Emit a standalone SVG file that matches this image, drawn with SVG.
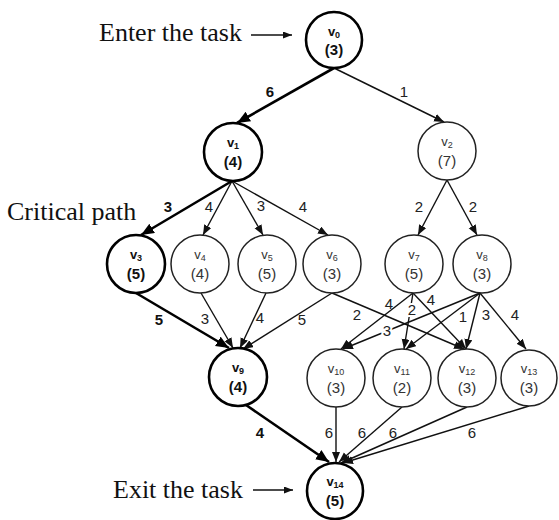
<svg xmlns="http://www.w3.org/2000/svg" width="559" height="520" viewBox="0 0 559 520">
<defs>
<marker id="ah" markerUnits="userSpaceOnUse" markerWidth="12" markerHeight="10" refX="10" refY="4" orient="auto"><path d="M0,0 L10,4 L0,8 Z" fill="#111"/></marker>
<marker id="ahb" markerUnits="userSpaceOnUse" markerWidth="16" markerHeight="12" refX="13" refY="5.5" orient="auto"><path d="M0,0 L13,5.5 L0,11 Z" fill="#000"/></marker>
<marker id="ahs" markerUnits="userSpaceOnUse" markerWidth="12" markerHeight="10" refX="9" refY="3.5" orient="auto"><path d="M0,0 L9,3.5 L0,7 Z" fill="#111"/></marker>
</defs>
<style>
.n circle{fill:#fff;stroke:#222;stroke-width:1.5}
.n text{font-family:"Liberation Sans",Arial,sans-serif;fill:#333;text-anchor:middle}
.c circle{stroke:#000;stroke-width:2.6}
.c text{fill:#111;font-weight:bold}
.v{font-size:13px}
.s{font-size:9px}
.w{font-size:15px}
.e{stroke:#111;stroke-width:1.4;fill:none;marker-end:url(#ah)}
.eb{stroke:#000;stroke-width:2.6;fill:none;marker-end:url(#ahb)}
.l{font-family:"Liberation Sans",Arial,sans-serif;font-size:15px;fill:#222;text-anchor:middle}
.lb{font-weight:bold;fill:#111}
.h{stroke:#fff;stroke-width:4;paint-order:stroke}
.t{font-family:"Liberation Serif","Times New Roman",serif;font-size:26px;fill:#111}
</style>
<g id="connectors">
<line class="eb" x1="334" y1="68" x2="237" y2="123"/>
<line class="e" x1="334" y1="68" x2="444" y2="122"/>
<line class="eb" x1="232" y1="181" x2="141" y2="235"/>
<line class="e" x1="232" y1="181" x2="203" y2="235"/>
<line class="e" x1="232" y1="181" x2="263" y2="235"/>
<line class="e" x1="232" y1="181" x2="328" y2="235"/>
<line class="e" x1="447" y1="180" x2="418" y2="235"/>
<line class="e" x1="447" y1="180" x2="477" y2="235"/>
<line class="eb" x1="136" y1="293" x2="229" y2="348"/>
<line class="e" x1="201" y1="293" x2="233" y2="348"/>
<line class="e" x1="266" y1="293" x2="240" y2="348"/>
<line class="e" x1="332" y1="293" x2="243" y2="349"/>
<line class="e" x1="332" y1="293" x2="464" y2="349"/>
<line class="e" x1="413" y1="293" x2="341" y2="349"/>
<line class="e" x1="413" y1="293" x2="404" y2="349"/>
<line class="e" x1="413" y1="293" x2="466" y2="349"/>
<line class="e" x1="480" y1="293" x2="343" y2="349"/>
<line class="e" x1="480" y1="293" x2="406" y2="349"/>
<line class="e" x1="480" y1="293" x2="466" y2="349"/>
<line class="e" x1="480" y1="293" x2="526" y2="349"/>
<line class="eb" x1="246" y1="405" x2="329" y2="462"/>
<line class="e" x1="336" y1="407" x2="336" y2="462"/>
<line class="e" x1="402" y1="407" x2="339" y2="462"/>
<line class="e" x1="467" y1="407" x2="341" y2="463"/>
<line class="e" x1="529" y1="406" x2="343" y2="463"/>
<line x1="251" y1="35" x2="292" y2="35" stroke="#111" stroke-width="1.3" marker-end="url(#ahs)"/>
<line x1="253" y1="490" x2="293" y2="490" stroke="#111" stroke-width="1.3" marker-end="url(#ahs)"/>
</g>
<g id="edge-labels">
<text class="l lb" x="270" y="97">6</text>
<text class="l" x="404" y="97">1</text>
<text class="l lb" x="168" y="212">3</text>
<text class="l" x="209" y="212">4</text>
<text class="l" x="261" y="211">3</text>
<text class="l" x="303" y="212">4</text>
<text class="l" x="419" y="212">2</text>
<text class="l" x="473" y="212">2</text>
<text class="l lb" x="159" y="325">5</text>
<text class="l" x="205" y="324">3</text>
<text class="l" x="260" y="323">4</text>
<text class="l" x="302" y="325">5</text>
<text class="l" x="357" y="320">2</text>
<text class="l" x="389" y="309">4</text>
<text class="l h" x="412" y="315">2</text>
<text class="l" x="431" y="305">4</text>
<text class="l h" x="387" y="336">3</text>
<text class="l" x="463" y="322">1</text>
<text class="l" x="486" y="320">3</text>
<text class="l" x="515" y="320">4</text>
<text class="l lb" x="260" y="438">4</text>
<text class="l" x="329" y="438">6</text>
<text class="l" x="362" y="438">6</text>
<text class="l" x="393" y="438">6</text>
<text class="l" x="472" y="438">6</text>
</g>
<g id="captions">
<text class="t" x="99" y="41">Enter the task</text>
<text class="t" x="7" y="220">Critical path</text>
<text class="t" x="113" y="498">Exit the task</text>
</g>
<g id="v0" class="n c"><circle cx="334" cy="40" r="28"/><text x="334" y="36"><tspan class="v">v</tspan><tspan class="s" dy="2">0</tspan></text><text class="w" x="334" y="55">(3)</text></g>
<g id="v1" class="n c"><circle cx="233" cy="152" r="29"/><text x="233" y="147"><tspan class="v">v</tspan><tspan class="s" dy="2">1</tspan></text><text class="w" x="233" y="167">(4)</text></g>
<g id="v2" class="n"><circle cx="447" cy="151" r="29"/><text x="447" y="146"><tspan class="v">v</tspan><tspan class="s" dy="2">2</tspan></text><text class="w" x="447" y="166">(7)</text></g>
<g id="v3" class="n c"><circle cx="136" cy="264" r="29"/><text x="136" y="259"><tspan class="v">v</tspan><tspan class="s" dy="2">3</tspan></text><text class="w" x="136" y="279">(5)</text></g>
<g id="v4" class="n"><circle cx="200" cy="264" r="29"/><text x="200" y="259"><tspan class="v">v</tspan><tspan class="s" dy="2">4</tspan></text><text class="w" x="200" y="279">(4)</text></g>
<g id="v5" class="n"><circle cx="267" cy="264" r="29"/><text x="267" y="259"><tspan class="v">v</tspan><tspan class="s" dy="2">5</tspan></text><text class="w" x="267" y="279">(5)</text></g>
<g id="v6" class="n"><circle cx="332" cy="264" r="29"/><text x="332" y="259"><tspan class="v">v</tspan><tspan class="s" dy="2">6</tspan></text><text class="w" x="332" y="279">(3)</text></g>
<g id="v7" class="n"><circle cx="414" cy="264" r="29"/><text x="414" y="259"><tspan class="v">v</tspan><tspan class="s" dy="2">7</tspan></text><text class="w" x="414" y="279">(5)</text></g>
<g id="v8" class="n"><circle cx="482" cy="264" r="29"/><text x="482" y="259"><tspan class="v">v</tspan><tspan class="s" dy="2">8</tspan></text><text class="w" x="482" y="279">(3)</text></g>
<g id="v9" class="n c"><circle cx="238" cy="377" r="29"/><text x="238" y="372"><tspan class="v">v</tspan><tspan class="s" dy="2">9</tspan></text><text class="w" x="238" y="392">(4)</text></g>
<g id="v10" class="n"><circle cx="336" cy="378" r="29"/><text x="336" y="373"><tspan class="v">v</tspan><tspan class="s" dy="2">10</tspan></text><text class="w" x="336" y="393">(3)</text></g>
<g id="v11" class="n"><circle cx="402" cy="378" r="29"/><text x="402" y="373"><tspan class="v">v</tspan><tspan class="s" dy="2">11</tspan></text><text class="w" x="402" y="393">(2)</text></g>
<g id="v12" class="n"><circle cx="467" cy="378" r="29"/><text x="467" y="373"><tspan class="v">v</tspan><tspan class="s" dy="2">12</tspan></text><text class="w" x="467" y="393">(3)</text></g>
<g id="v13" class="n"><circle cx="529" cy="378" r="28"/><text x="529" y="373"><tspan class="v">v</tspan><tspan class="s" dy="2">13</tspan></text><text class="w" x="529" y="393">(3)</text></g>
<g id="v14" class="n c"><circle cx="335" cy="491" r="28"/><text x="335" y="486"><tspan class="v">v</tspan><tspan class="s" dy="2">14</tspan></text><text class="w" x="335" y="506">(5)</text></g>
</svg>
